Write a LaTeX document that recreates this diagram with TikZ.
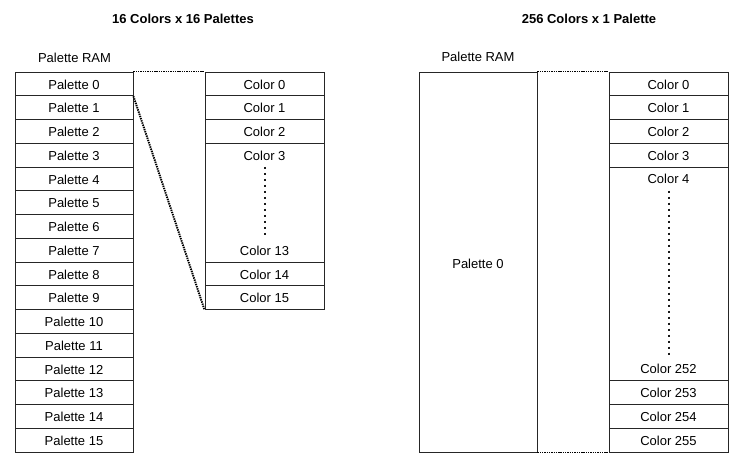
\documentclass[tikz,border=0pt]{standalone}
\usepackage{fontspec}
\setmainfont{Liberation Sans}
\begin{document}
\begin{tikzpicture}[x=1pt,y=-1pt,
  every node/.style={font=\fontsize{13}{15}\selectfont},
  cell/.style={draw=black!85, line width=0.9pt, minimum width=118pt, minimum height=23.75pt, inner sep=0pt, text height=10.5pt, text depth=0pt},
  ccell/.style={cell, minimum width=119pt},
  bigbox/.style={draw=black!85, line width=0.9pt, inner sep=0pt},
  lbl/.style={inner sep=0pt, text height=9.5pt, text depth=2.5pt},
  title/.style={font=\fontsize{13}{15}\selectfont\bfseries},
  conn/.style={line width=1.9pt, dash pattern=on 1.4pt off 0.9pt, black},
  vdots/.style={line width=2pt, dash pattern=on 2pt off 4pt, black!90, line cap=butt}]
\useasboundingbox (0,0) rectangle (750,470);
\fill[white] (0,0) rectangle (750,470);

% ---------- Left diagram ----------
\node[title] (t1) at (183,19) {16 Colors x 16 Palettes};
\node (ram1) at (74.5,57.5) {Palette RAM};
\foreach \i in {0,...,15} {
  \node[cell] (p\i) at (74,{72+23.75*(\i+0.5)}) {Palette \i};
}
\foreach \i in {0,1,2} {
  \node[ccell] (lc\i) at (264.5,{72+23.75*(\i+0.5)}) {Color \i};
}
\node[bigbox, minimum width=119pt, minimum height=118.75pt] (lbig) at (264.5,{72+23.75*5.5}) {};
\node[lbl] (lc3) at (264.5,{73.5+23.75*3.5}) {Color 3};
\node[lbl] (lc13) at (264.5,{73.5+23.75*7.5}) {Color 13};
\node[ccell] (lc14) at (264.5,{72+23.75*8.5}) {Color 14};
\node[ccell] (lc15) at (264.5,{72+23.75*9.5}) {Color 15};
\draw[vdots] ([yshift=-4pt]lc3.south) -- ([yshift=8pt]lc13.north);
\draw[conn] (p0.north east) -- (lc0.north west);
\draw[conn] (p0.south east) -- (lc15.south west);

% ---------- Right diagram ----------
\node[title] (t2) at (589,19) {256 Colors x 1 Palette};
\node (ram2) at (478,57) {Palette RAM};
\node[bigbox, minimum width=118pt, minimum height=380pt] (rp0) at (478,262) {};
\node at (478,264) {Palette 0};
\foreach \i in {0,1,2,3} {
  \node[ccell] (rc\i) at (668.5,{72+23.75*(\i+0.5)}) {Color \i};
}
\node[bigbox, minimum width=119pt, minimum height=213.75pt] (rbig) at (668.5,{72+23.75*8.5}) {};
\node[lbl] (rc4) at (668.5,{73.5+23.75*4.5}) {Color 4};
\node[lbl] (rc252) at (668.5,{73.5+23.75*12.5}) {Color 252};
\node[ccell] (rc253) at (668.5,{72+23.75*13.5}) {Color 253};
\node[ccell] (rc254) at (668.5,{72+23.75*14.5}) {Color 254};
\node[ccell] (rc255) at (668.5,{72+23.75*15.5}) {Color 255};
\draw[vdots] ([yshift=-4pt]rc4.south) -- ([yshift=8pt]rc252.north);
\draw[conn] (rp0.north east) -- (rc0.north west);
\draw[conn] (rp0.south east) -- (rc255.south west);
\end{tikzpicture}
\end{document}
